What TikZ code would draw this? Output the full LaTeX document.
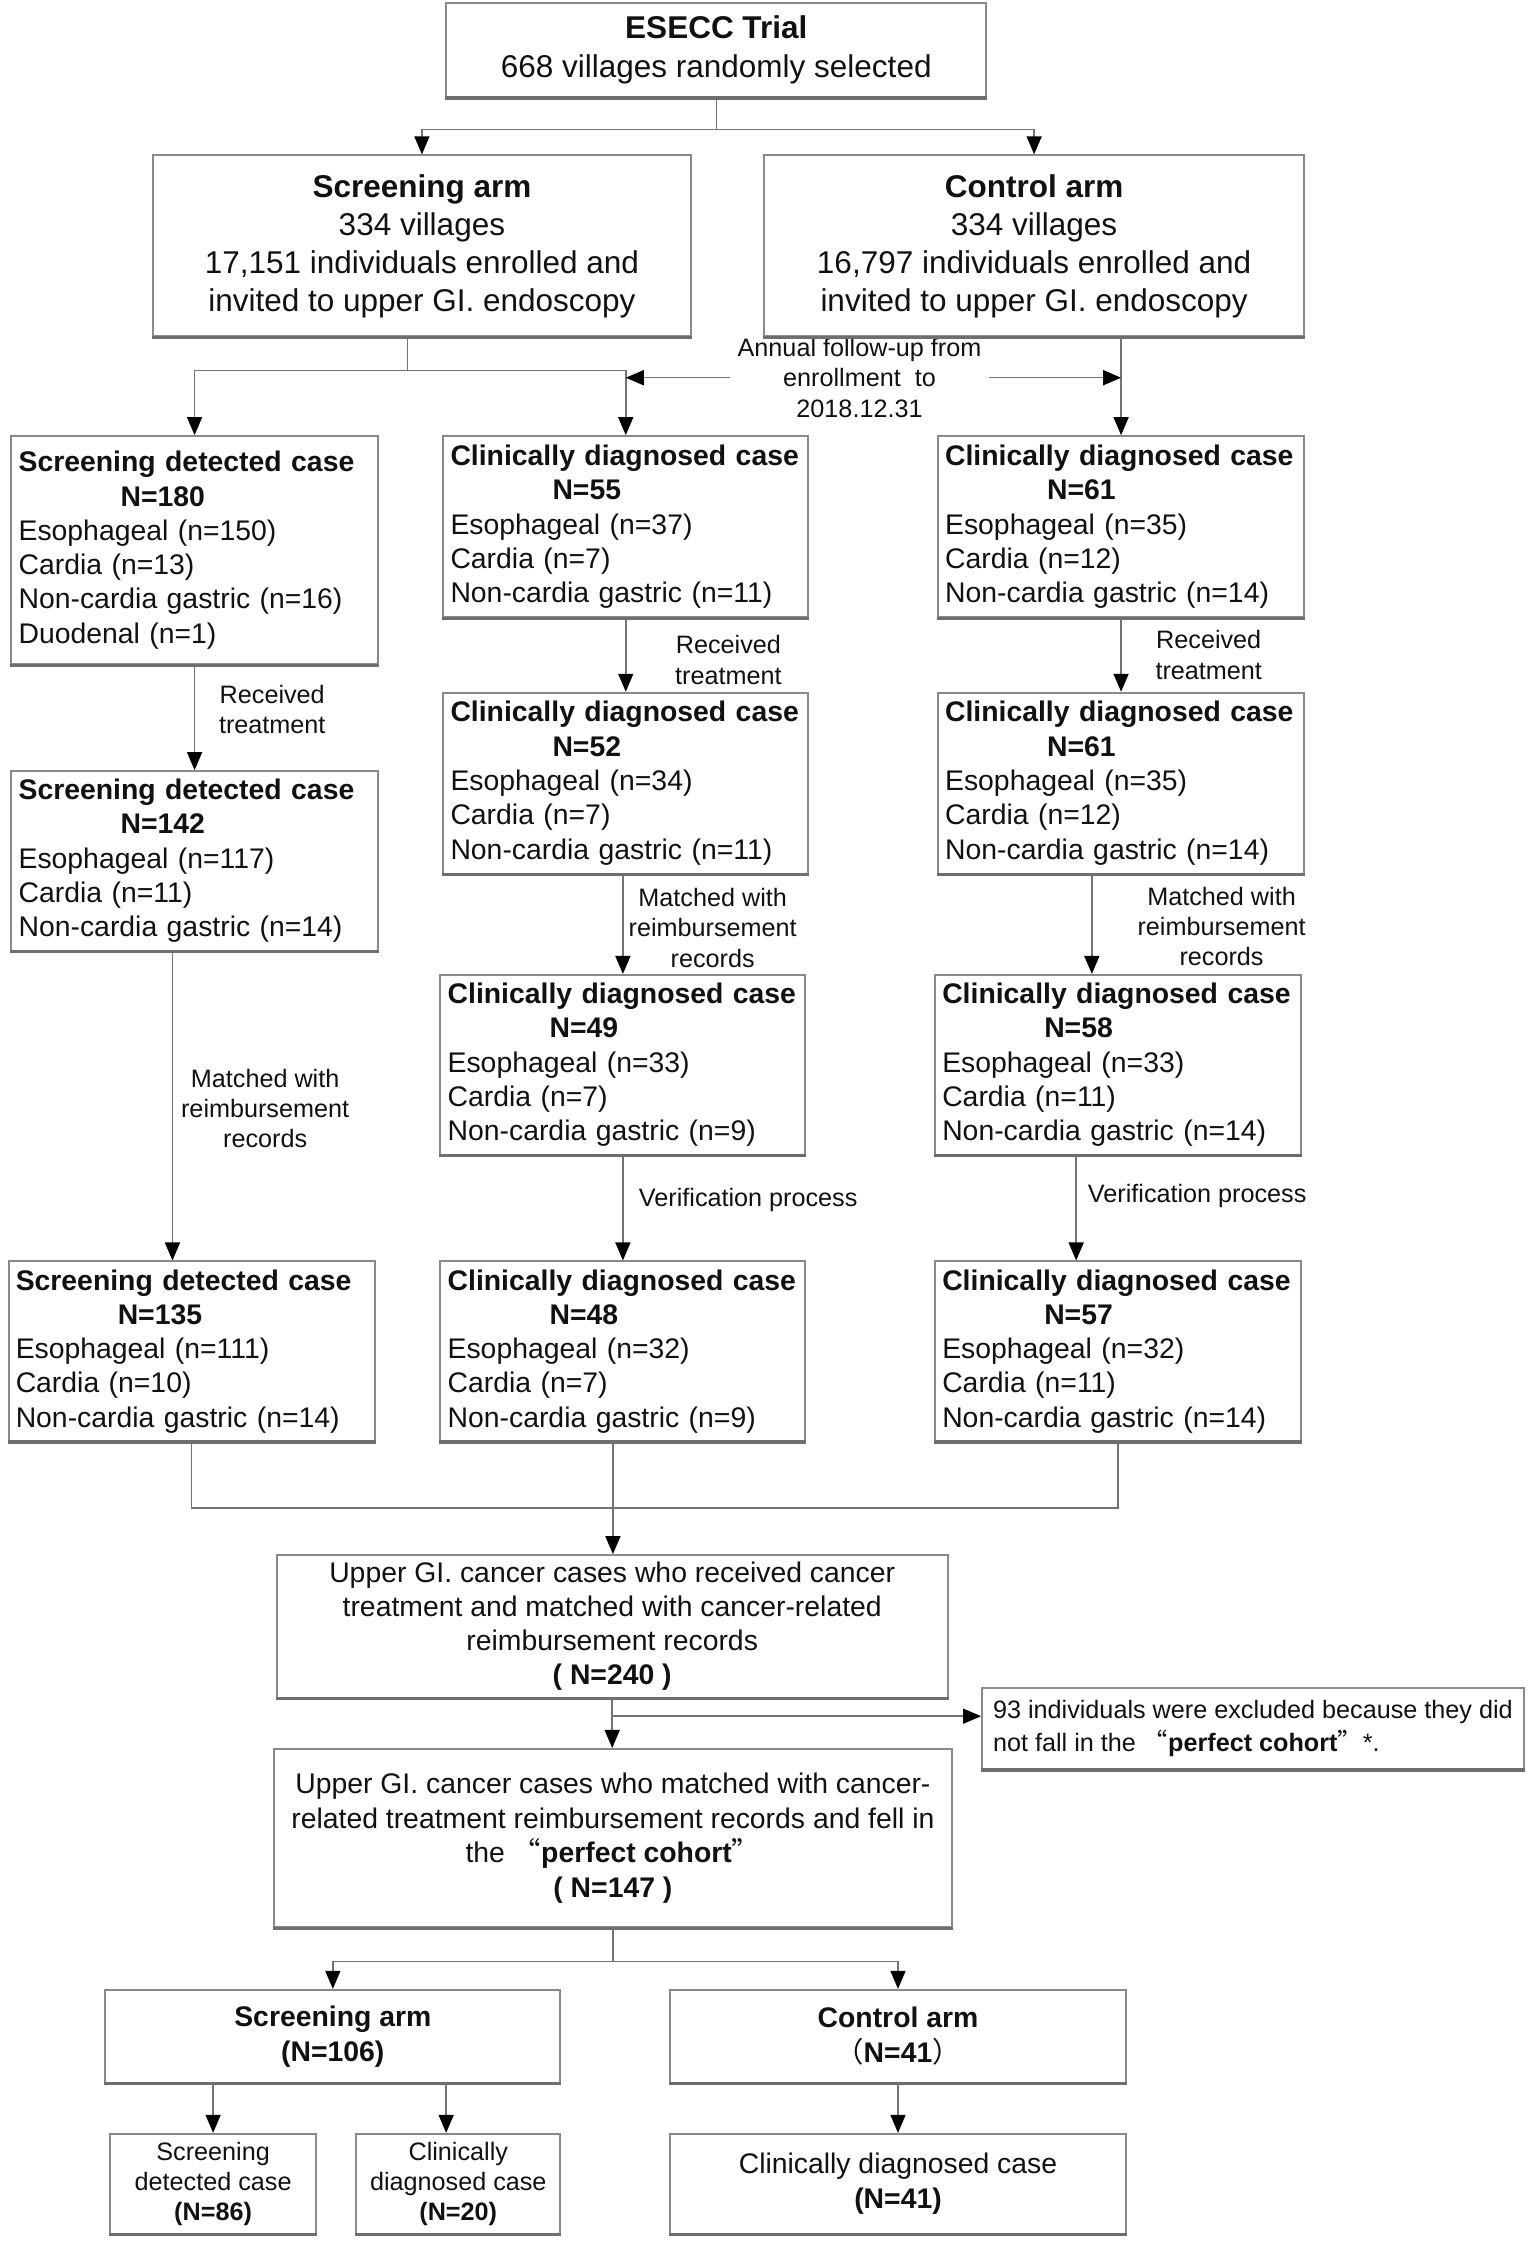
\documentclass[tikz,border=0pt]{standalone}
\usepackage{fontspec}
\setmainfont{Liberation Sans}
\newfontfamily\cjk{Noto Sans CJK SC}
\usetikzlibrary{arrows.meta}
\definecolor{boxgray}{RGB}{138,138,138}
\definecolor{boxdark}{RGB}{110,110,110}
\definecolor{linegray}{RGB}{115,115,115}
\definecolor{txt}{RGB}{17,17,17}
\newcommand\bigfont{\fontsize{15.75pt}{19.1pt}\selectfont}
\newcommand\bodyfont{\fontsize{14.18pt}{17.15pt}\selectfont}
\newcommand\smallfont{\fontsize{12.6pt}{15.1pt}\selectfont}
\newcommand\nind{\hspace*{51pt}}
% \bx[opts]{name}{x1}{y1}{x2}{y2}{text}
\newcommand\bx[7][]{%
  \pgfmathsetmacro\bxw{(#5-#3)*0.7127}%
  \pgfmathsetmacro\bxh{(#6-#4)*0.7127}%
  \pgfmathsetmacro\bxtw{(#5-#3)*0.7127-7.2}%
  \node[box,minimum width=\bxw pt,minimum height=\bxh pt,#1] (#2) at ({(#3+#5)/2},{(#4+#6)/2}) {#7};}
\begin{document}
\begin{tikzpicture}[x=0.7127pt,y=-0.7127pt,
  box/.style={draw=boxgray,line width=1pt,inner xsep=3.6pt,inner ysep=0pt,text=txt,font=\bodyfont,align=center},
  lbox/.style={text width=\bxtw pt,align=left},
  lab/.style={inner sep=0pt,text=txt,font=\smallfont,align=center},
  conn/.style={draw=linegray,line width=0.75pt},
  arr/.style={conn,-{Triangle[length=9pt,width=7.5pt,color=black]}},
  bottomedge/.style={draw=boxdark,line width=1.6pt}]
\fill[white] (0,0) rectangle (1077,1575);
\useasboundingbox (0,0) rectangle (1077,1575);

% ---- top
\bx[font=\bigfont]{esecc}{313}{2}{692}{68}{\textbf{ESECC Trial}\\668 villages randomly selected}
\bx[font={\fontsize{15.75pt}{19pt}\selectfont}]{sa}{107}{109}{485}{236}{\textbf{Screening arm}\\334 villages\\17,151 individuals enrolled and\\invited to upper GI. endoscopy}
\bx[font={\fontsize{15.75pt}{19pt}\selectfont}]{ca}{536}{109}{915}{236}{\textbf{Control arm}\\334 villages\\16,797 individuals enrolled and\\invited to upper GI. endoscopy}

\node[lab,inner xsep=3.5pt,font={\fontsize{12.6pt}{15.3pt}\selectfont}] (fu) at (603,265) {Annual follow-up from\\enrollment\ \ to\\2018.12.31};

% ---- row 1
\bx[lbox]{sd180}{8}{306}{265}{466}{\textbf{Screening detected case}\\\nind\textbf{N=180}\\Esophageal (n=150)\\Cardia (n=13)\\Non-cardia gastric (n=16)\\Duodenal (n=1)}
\bx[lbox]{cd55}{311}{306}{567}{433}{\textbf{Clinically diagnosed case}\\\nind\textbf{N=55}\\Esophageal (n=37)\\Cardia (n=7)\\Non-cardia gastric (n=11)}
\bx[lbox]{cd61}{658}{306}{915}{433}{\textbf{Clinically diagnosed case}\\\nind\textbf{N=61}\\Esophageal (n=35)\\Cardia (n=12)\\Non-cardia gastric (n=14)}

% ---- row 2
\bx[lbox]{sd142}{8}{541}{265}{667}{\textbf{Screening detected case}\\\nind\textbf{N=142}\\Esophageal (n=117)\\Cardia (n=11)\\Non-cardia gastric (n=14)}
\bx[lbox]{cd52}{311}{486}{567}{613}{\textbf{Clinically diagnosed case}\\\nind\textbf{N=52}\\Esophageal (n=34)\\Cardia (n=7)\\Non-cardia gastric (n=11)}
\bx[lbox]{cd61b}{658}{486}{915}{613}{\textbf{Clinically diagnosed case}\\\nind\textbf{N=61}\\Esophageal (n=35)\\Cardia (n=12)\\Non-cardia gastric (n=14)}

% ---- row 3
\bx[lbox]{cd49}{309}{684}{565}{810}{\textbf{Clinically diagnosed case}\\\nind\textbf{N=49}\\Esophageal (n=33)\\Cardia (n=7)\\Non-cardia gastric (n=9)}
\bx[lbox]{cd58}{656}{684}{913}{810}{\textbf{Clinically diagnosed case}\\\nind\textbf{N=58}\\Esophageal (n=33)\\Cardia (n=11)\\Non-cardia gastric (n=14)}

% ---- row 4
\bx[lbox]{sd135}{6}{885}{263}{1011}{\textbf{Screening detected case}\\\nind\textbf{N=135}\\Esophageal (n=111)\\Cardia (n=10)\\Non-cardia gastric (n=14)}
\bx[lbox]{cd48}{309}{885}{565}{1011}{\textbf{Clinically diagnosed case}\\\nind\textbf{N=48}\\Esophageal (n=32)\\Cardia (n=7)\\Non-cardia gastric (n=9)}
\bx[lbox]{cd57}{656}{885}{913}{1011}{\textbf{Clinically diagnosed case}\\\nind\textbf{N=57}\\Esophageal (n=32)\\Cardia (n=11)\\Non-cardia gastric (n=14)}

% ---- labels
\node[lab] (l1) at (191,497.5) {Received\\treatment};
\node[lab] (l2) at (511,463) {Received\\treatment};
\node[lab] (l3) at (848,459.5) {Received\\treatment};
\node[lab] (m1) at (186,777.5) {Matched with\\reimbursement\\records};
\node[lab] (m2) at (500,651) {Matched with\\reimbursement\\records};
\node[lab] (m3) at (857,650) {Matched with\\reimbursement\\records};
\node[lab,anchor=west] (v2) at (448,842) {Verification process};
\node[lab,anchor=west] (v3) at (763,839) {Verification process};

% ---- lower part
\bx[font={\fontsize{14.18pt}{17.05pt}\selectfont}]{b240}{194}{1091}{665}{1191}{Upper GI. cancer cases who received cancer\\treatment and matched with cancer-related\\reimbursement records\\\textbf{( N=240 )}}
\bx[font={\fontsize{12.6pt}{16.2pt}\selectfont},align=left]{excl}{689}{1184}{1069}{1241}{93 individuals were excluded because they did\\not fall in the {\cjk “}\textbf{perfect cohort}{\cjk ”}*.}
\bx[font={\fontsize{14.18pt}{17.3pt}\selectfont}]{b147}{192}{1227}{668}{1352}{Upper GI. cancer cases who matched with cancer-\\related treatment reimbursement records and fell in\\the {\cjk “}\textbf{perfect cohort}{\cjk ”}\\\textbf{( N=147 )}}
\bx[font={\fontsize{14.18pt}{17.5pt}\selectfont}]{sa2}{74}{1396}{393}{1461}{\textbf{Screening arm}\\\textbf{(N=106)}}
\bx[font={\fontsize{14.18pt}{17.5pt}\selectfont}]{ca2}{470}{1396}{790}{1461}{\textbf{Control arm}\\{\cjk （}\textbf{N=41}{\cjk ）}}
\bx[font={\fontsize{12.6pt}{15pt}\selectfont}]{sd86}{77}{1497}{222}{1567}{Screening\\detected case\\\textbf{(N=86)}}
\bx[font={\fontsize{12.6pt}{15pt}\selectfont}]{cd20}{250}{1497}{393}{1567}{Clinically\\diagnosed case\\\textbf{(N=20)}}
\bx[font={\fontsize{14.18pt}{17.5pt}\selectfont}]{cd41}{470}{1497}{790}{1567}{Clinically diagnosed case\\\textbf{(N=41)}}

\foreach \n in {esecc,sa,ca,sd180,cd55,cd61,sd142,cd52,cd61b,cd49,cd58,sd135,cd48,cd57,b240,excl,b147,sa2,ca2,sd86,cd20,cd41}
  \draw[bottomedge] (\n.south west) -- (\n.south east);

% ---- connectors
\coordinate (j0) at (0,91);
\draw[arr] (esecc.south) -- (esecc.south |- j0) -| (sa.north);
\draw[arr] (esecc.south |- j0) -| (ca.north);

\coordinate (j1) at (286,260);
\draw[conn] (sa.south -| j1) -- (j1);
\draw[arr] (j1) -| (sd180.north);
\draw[arr] (j1) -| (cd55.north);
\draw[arr] (ca.south -| cd61.north) -- (cd61.north);
\draw[arr] (fu.west) -- (fu.west -| cd55.north);
\draw[arr] (fu.east) -- (fu.east -| cd61.north);

\coordinate (x121) at (121,0);
\coordinate (x766) at (766,0);
\coordinate (x755) at (755,0);
\draw[arr] (sd180.south) -- (sd142.north);
\draw[arr] (sd142.south -| x121) -- (sd135.north -| x121);
\draw[arr] (cd55.south) -- (cd52.north);
\draw[arr] (cd52.south -| cd49.north) -- (cd49.north);
\draw[arr] (cd49.south) -- (cd48.north);
\draw[arr] (cd61.south) -- (cd61b.north);
\draw[arr] (cd61b.south -| x766) -- (cd58.north -| x766);
\draw[arr] (cd58.south -| x755) -- (cd57.north -| x755);

\coordinate (j2) at (430,1058);
\draw[conn] (sd135.south) |- (j2);
\draw[conn] (cd57.south) |- (j2);
\draw[conn] (cd48.south -| j2) -- (j2);
\draw[arr] (j2) -- (j2 |- b240.north);

\coordinate (j3) at (0,1204);
\draw[arr] (b240.south) -- (b240.south |- b147.north);
\draw[arr] (b240.south |- j3) -- (excl.west |- j3);

\coordinate (j4) at (0,1376);
\draw[conn] (b147.south) -- (b147.south |- j4);
\draw[arr] (b147.south |- j4) -| (sa2.north);
\draw[arr] (b147.south |- j4) -| (ca2.north);

\coordinate (x313) at (313,0);
\draw[arr] (sa2.south -| sd86.north) -- (sd86.north);
\draw[arr] (sa2.south -| x313) -- (cd20.north -| x313);
\draw[arr] (ca2.south) -- (cd41.north);
\end{tikzpicture}
\end{document}
